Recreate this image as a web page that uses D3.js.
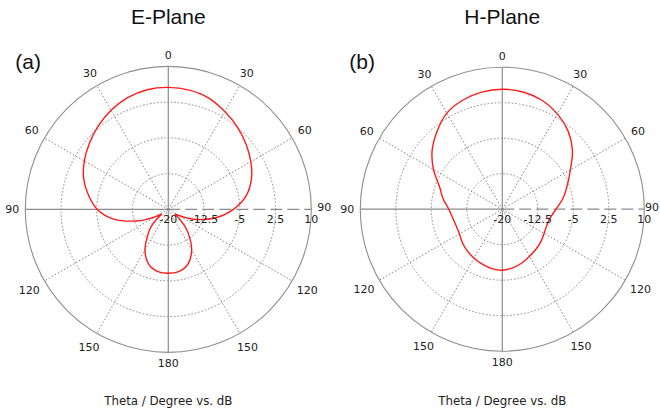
<!DOCTYPE html>
<html><head><meta charset="utf-8">
<script src="https://cdn.jsdelivr.net/npm/d3@7"></script>
<style>body{margin:0;background:#fff} svg{display:block}</style>
</head><body><svg id="c" width="660" height="411"></svg>
<script>
// radial (dB) ticks and angular ticks
const radialTicks = [-20, -12.5, -5, 2.5, 10];
const angleTicks = [0, 30, 60, 90, 120, 150, 180];

// E-plane: theta (deg) and gain (dB), right half (phi=0) and left half (phi=180)
const eAngles = [0,10,20,30,40,50,60,70,80,90,100,110,115,120,125,130,135,140,150,160,170,180];
const eRight  = [5.6,5.4,4.85,3.7,2.55,1.3,0.0,-1.45,-3.4,-6.35,-9.9,-13.8,-15.9,-17.5,-18.3,-17.05,-15.2,-13.5,-10.2,-7.85,-6.8,-6.6];
const eLeft   = [5.6,5.5,4.95,4.0,2.85,1.6,0.35,-1.1,-3.0,-5.1,-8.35,-12.85,-15.1,-17.05,-18.3,-16.85,-14.95,-13.5,-10.2,-7.85,-6.8,-6.6];

// H-plane
const hAngles = [0,10,20,30,40,50,60,70,80,90,100,110,120,130,140,150,160,170,180];
const hRight  = [5.35,5.15,4.5,3.25,1.6,-0.65,-3.4,-5.4,-7.0,-8.65,-9.7,-10.0,-9.8,-9.35,-8.95,-8.5,-7.9,-7.4,-7.1];
const hLeft   = [5.35,5.1,4.5,3.45,1.45,-0.65,-3.2,-5.85,-7.3,-8.7,-9.35,-9.65,-9.55,-9.0,-8.5,-8.05,-7.65,-7.25,-7.1];

const svg = d3.select("#c");
const W = 660;
const rad = d => d * Math.PI / 180;

function drawPlane(cx, cy, R, angles, rightVals, leftVals, title, tag) {
  const g = svg.append("g").attr("transform", `translate(${cx},${cy})`);
  const r = d3.scaleLinear().domain([-20, 10]).range([0, R]);

  // dotted rings
  g.selectAll("circle.ring").data(radialTicks.slice(1, -1)).join("circle")
    .attr("r", d => r(d)).attr("fill", "none")
    .attr("stroke", "#8a8a8a").attr("stroke-width", 1).attr("stroke-dasharray", "1.6,1.9");
  // outer ring
  g.append("circle").attr("r", r(10)).attr("fill", "none")
    .attr("stroke", "#8f8f8f").attr("stroke-width", 1.1);

  // dotted spokes
  const spokes = [30, 60, 120, 150, 210, 240, 300, 330];
  g.selectAll("line.spoke").data(spokes).join("line")
    .attr("x1", 0).attr("y1", 0)
    .attr("x2", d => R * Math.sin(rad(d))).attr("y2", d => -R * Math.cos(rad(d)))
    .attr("stroke", "#8a8a8a").attr("stroke-width", 1).attr("stroke-dasharray", "1.6,1.9");

  // solid axes
  g.append("line").attr("x1", 0).attr("y1", -R).attr("x2", 0).attr("y2", R)
    .attr("stroke", "#8c8c8c").attr("stroke-width", 1.2);
  g.append("line").attr("x1", -R).attr("y1", 0).attr("x2", 0).attr("y2", 0)
    .attr("stroke", "#8c8c8c").attr("stroke-width", 1.2);
  // dashed radial axis
  g.append("line").attr("x1", 0).attr("y1", 0).attr("x2", R).attr("y2", 0)
    .attr("stroke", "#8c8c8c").attr("stroke-width", 1.2).attr("stroke-dasharray", "12,5");

  // pattern
  const pts = [];
  angles.forEach((a, i) => pts.push([rad(a), r(rightVals[i])]));
  for (let i = angles.length - 2; i >= 1; i--) pts.push([rad(360 - angles[i]), r(leftVals[i])]);
  const line = d3.lineRadial().angle(d => d[0]).radius(d => d[1])
    .curve(d3.curveCatmullRomClosed.alpha(0.5));
  g.append("path").attr("d", line(pts)).attr("fill", "none")
    .attr("stroke", "#ff1a1a").attr("stroke-width", 1.4);

  // radial tick labels
  g.selectAll("text.rt").data(radialTicks).join("text")
    .attr("x", d => r(d)).attr("y", 10).attr("dy", "0.35em")
    .attr("text-anchor", "middle")
    .attr("font-family", "DejaVu Sans").attr("font-size", 11).attr("fill", "#222")
    .text(d => d);

  // angle labels
  const labs = [];
  angleTicks.forEach(a => {
    labs.push({pos: a, txt: a});
    if (a !== 0 && a !== 180) labs.push({pos: 360 - a, txt: a});
  });
  g.selectAll("text.at").data(labs).join("text")
    .attr("font-family", "DejaVu Sans").attr("font-size", 11).attr("fill", "#222")
    .attr("text-anchor", "middle").attr("dy", "0.35em")
    .text(d => d.txt)
    .each(function(d) {
      const bb = this.getBBox();
      const s = Math.sin(rad(d.pos)), c = Math.cos(rad(d.pos));
      const ext = (bb.width / 2) * Math.abs(s) + 5 * Math.abs(c);
      const rr = R + 6 + ext;
      let x = rr * s;
      const maxX = W - cx - bb.width / 2 - 1;
      if (x > maxX) x = maxX;
      d3.select(this).attr("x", x).attr("y", -rr * c - (d.pos === 90 ? 2 : 0));
    });

  // title and tag
  svg.append("text").attr("x", cx).attr("y", 24).attr("text-anchor", "middle")
    .attr("font-family", "Liberation Sans, Arial").attr("font-size", 21).attr("fill", "#111")
    .text(title);
  svg.append("text").attr("x", cx - 153).attr("y", 69)
    .attr("font-family", "Liberation Sans, Arial").attr("font-size", 21).attr("fill", "#111")
    .text(tag);
  svg.append("text").attr("x", cx).attr("y", 405).attr("text-anchor", "middle")
    .attr("font-family", "DejaVu Sans").attr("font-size", 11.8).attr("fill", "#222")
    .text("Theta / Degree vs. dB");
}

drawPlane(168.3, 209.4, 143, eAngles, eRight, eLeft, "E-Plane", "(a)");
drawPlane(502.3, 209.2, 142, hAngles, hRight, hLeft, "H-Plane", "(b)");
</script></body></html>
